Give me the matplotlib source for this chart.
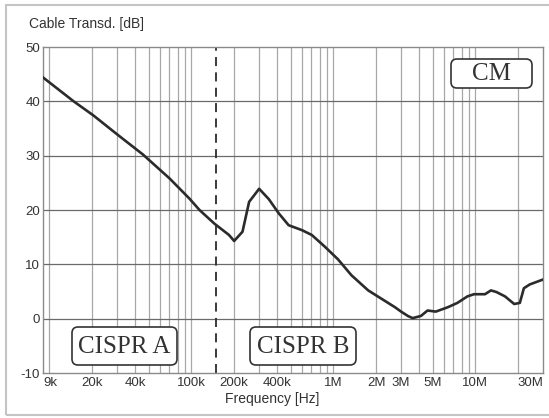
import matplotlib
matplotlib.use("Agg")
import matplotlib.pyplot as plt
from matplotlib.patches import Rectangle, FancyBboxPatch
from matplotlib.transforms import Affine2D
from matplotlib.ticker import FixedLocator, NullFormatter, NullLocator

# Cable transducer factor (common mode) versus frequency
freq_hz = [9e3, 14.8e3, 20.4e3, 29.7e3, 45.6e3, 70.2e3, 96.8e3, 114e3,
           145e3, 184e3, 200e3, 229e3, 255e3, 300e3, 351e3, 412e3, 484e3,
           600e3, 705e3, 875e3, 1.08e6, 1.34e6, 1.76e6, 2.72e6, 3.0e6, 3.35e6,
           3.62e6, 4.14e6, 4.61e6, 5.27e6, 6.4e6, 7.48e6, 8.8e6, 9.8e6, 11.7e6,
           12.9e6, 14.1e6, 16.2e6, 18.8e6, 20.6e6, 22e6, 24.2e6, 30e6]
transd_db = [44.4, 40.0, 37.4, 34.0, 30.2, 25.8, 22.1, 20.0,
             17.5, 15.4, 14.3, 16.0, 21.5, 23.9, 22.0, 19.4, 17.2,
             16.3, 15.4, 13.2, 10.9, 8.0, 5.2, 2.1, 1.3, 0.5,
             0.1, 0.5, 1.5, 1.3, 2.1, 2.9, 4.1, 4.5, 4.5,
             5.2, 4.9, 4.1, 2.7, 2.9, 5.6, 6.3, 7.2]

x_tick_values = [9e3, 20e3, 40e3, 100e3, 200e3, 400e3, 1e6, 2e6, 3e6, 5e6, 10e6, 30e6]
x_tick_labels = ["9k", "20k", "40k", "100k", "200k", "400k", "1M", "2M", "3M", "5M", "10M", "30M"]
y_tick_values = [-10, 0, 10, 20, 30, 40, 50]
band_edge_hz = 150e3
band_labels = ["CISPR A", "CISPR B"]
mode_label = "CM"

sans = "Liberation Sans"
serif = "Liberation Serif"
text_color = "#333333"

W, H, DPI = 549, 418, 100
fig = plt.figure(figsize=(W / DPI, H / DPI), dpi=DPI)
# figure pixel coordinates (origin bottom-left)
px = Affine2D().scale(1 / DPI) + fig.dpi_scale_trans

ax = fig.add_axes([43 / W, 1 - 373 / H, 500 / W, 326 / H])
ax.set_xscale("log")
ax.set_xlim(9e3, 30e6)
ax.set_ylim(-10, 50)

# Vertical grid at every 1..9 multiple of each decade
minor_grid = [m * 10 ** d for d in range(4, 8) for m in range(1, 10)
              if 9e3 < m * 10 ** d < 30e6]
for f in minor_grid:
    ax.axvline(f, color="#a8a8a8", lw=0.9, zorder=1)
for v in y_tick_values[1:-1]:
    ax.axhline(v, color="#6a6a6a", lw=0.9, zorder=1)

for s in ax.spines.values():
    s.set_color("#8a8a8a")
    s.set_linewidth(1.0)

ax.xaxis.set_major_locator(FixedLocator(x_tick_values))
ax.xaxis.set_minor_locator(NullLocator())
ax.xaxis.set_minor_formatter(NullFormatter())
ax.set_xticks(x_tick_values)
ax.set_xticklabels(x_tick_labels)
ax.set_yticks(y_tick_values)
ax.set_yticklabels([str(v) for v in y_tick_values])
ax.tick_params(axis="both", length=0, labelsize=9.5, labelcolor=text_color)
ax.tick_params(axis="x", pad=3)
ax.tick_params(axis="y", pad=2)
for lbl in ax.get_xticklabels() + ax.get_yticklabels():
    lbl.set_fontfamily(sans)
xl = ax.get_xticklabels()
xl[0].set_horizontalalignment("left")
xl[-1].set_horizontalalignment("right")

# Curve and CISPR band boundary
ax.plot(freq_hz, transd_db, color="#2b2b2b", lw=1.9, zorder=3,
        solid_joinstyle="round")
ax.axvline(band_edge_hz, color="#2b2b2b", lw=1.3, ls=(0, (5, 3.5)), zorder=2)


def boxed_label(text, x0, top, x1, bottom):
    # box edges given as pixel offsets from the top-left corner
    y0, y1 = H - bottom, H - top
    box = FancyBboxPatch((x0, y0), x1 - x0, y1 - y0,
                         boxstyle="round,pad=0,rounding_size=6",
                         transform=px, fc="white", ec="#333333", lw=1.2,
                         zorder=5)
    fig.add_artist(box)
    fig.text((x0 + x1) / 2, (y0 + y1) / 2 - 1, text, transform=px,
             family=serif, fontsize=18, color=text_color,
             ha="center", va="center", zorder=6)


boxed_label(band_labels[0], 72, 327, 177, 365)
boxed_label(band_labels[1], 250, 327, 356, 365)
boxed_label(mode_label, 451, 59, 532, 88)

fig.text(29, H - 24, "Cable Transd. [dB]", transform=px, family=sans,
         fontsize=10, color=text_color, ha="left", va="center")
fig.text(272, H - 399, "Frequency [Hz]", transform=px, family=sans,
         fontsize=10, color=text_color, ha="center", va="center")

# Outer frame around the chart
fig.add_artist(Rectangle((6, H - 415), 560, 410, transform=px, fill=False,
                         ec="#c4c4c4", lw=1.5, zorder=0))

fig.savefig("out.png", dpi=DPI, facecolor="white")
